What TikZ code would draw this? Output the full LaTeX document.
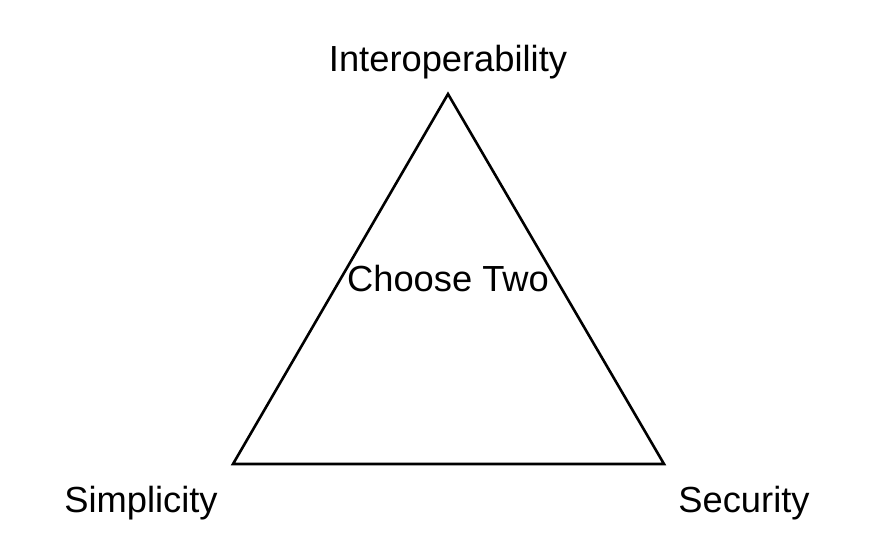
\documentclass[tikz,border=0pt]{standalone}
\usepackage{fontspec}
\setmainfont{Liberation Sans}
\usetikzlibrary{positioning}

\begin{document}
\begin{tikzpicture}[x=1pt,y=-1pt]
\tikzset{
 lbl/.style={inner sep=0,anchor=base,font=\fontsize{36.3}{43}\selectfont},
 tri/.style={draw,line width=2.6pt,line join=miter}
}
\useasboundingbox (0,0) rectangle (886,549);
\coordinate (top) at (448,94);
\coordinate (bl) at (233,464);
\coordinate (br) at (664,464);
\draw[tri] (top)--(br)--(bl)--cycle;
\node[lbl] (inter) at (448,71) {Interoperability};
\node[lbl] (choose) at (448,291) {Choose Two};
\node[lbl] (simp) at (141,512) {Simplicity};
\node[lbl] (sec) at (744,512) {Security};
\end{tikzpicture}
\end{document}
